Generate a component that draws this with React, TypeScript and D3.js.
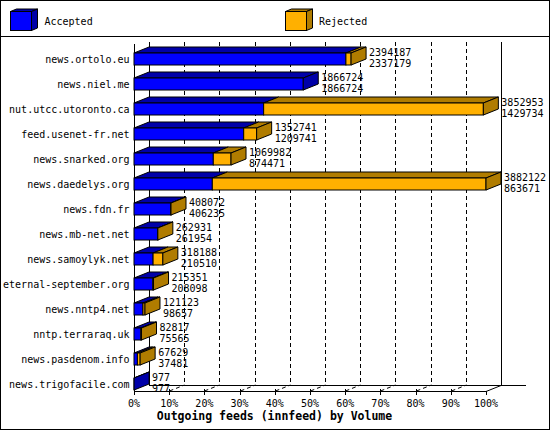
import React from "react";
import * as d3 from "d3";

const categories = [
  "news.ortolo.eu",
  "news.niel.me",
  "nut.utcc.utoronto.ca",
  "feed.usenet-fr.net",
  "news.snarked.org",
  "news.daedelys.org",
  "news.fdn.fr",
  "news.mb-net.net",
  "news.samoylyk.net",
  "eternal-september.org",
  "news.nntp4.net",
  "nntp.terraraq.uk",
  "news.pasdenom.info",
  "news.trigofacile.com",
];
const offered = [2394187, 1866724, 3852953, 1352741, 1069982, 3882122, 408072, 262931, 318188, 215351, 121123, 82817, 67629, 977];
const accepted = [2337179, 1866724, 1429734, 1209741, 874471, 863671, 406235, 261954, 210510, 208098, 98657, 75565, 37481, 977];
const seriesNames = ["Accepted", "Rejected"];
const tickPercents = [0, 10, 20, 30, 40, 50, 60, 70, 80, 90, 100];
const title = "Outgoing feeds (innfeed) by Volume";

const BLUE = "#0000ff";
const BLUE_D = "#0000a8";
const ORANGE = "#ffb000";
const ORANGE_D = "#b07c00";
const FONT = "'DejaVu Sans Mono', monospace";

const DX = 15;
const DY = -6;
const FRONT_BOTTOM = 391;
const TOP = 42;

export default function App() {
  const maxV = d3.max(offered) as number;
  const x = d3.scaleLinear().domain([0, maxV]).range([134, 486]);
  const px = d3.scaleLinear().domain([0, 100]).range([134, 486]);
  const y = d3.scalePoint<string>().domain(categories).range([59, 384]);
  const BH = 12;

  const poly = (pts: [number, number][]) => pts.map((p) => p.join(",")).join(" ");

  const bars = categories.map((c, i) => {
    const cy = y(c) as number;
    const x0 = x(0);
    const xa = x(accepted[i]);
    const xo = x(offered[i]);
    const top = cy - BH / 2;
    const bot = cy + BH / 2;
    const segs: { a: number; b: number; f: string; d: string }[] = [
      { a: x0, b: xa, f: BLUE, d: BLUE_D },
    ];
    if (xo - xa > 0.01) segs.push({ a: xa, b: xo, f: ORANGE, d: ORANGE_D });
    const last = segs[segs.length - 1];
    return (
      <g key={c}>
        {segs.map((s, j) => (
          <g key={j}>
            <polygon
              points={poly([
                [s.a, top],
                [s.a + DX, top + DY],
                [s.b + DX, top + DY],
                [s.b, top],
              ])}
              fill={s.d}
              stroke="#000"
              strokeWidth={1}
            />
            <rect x={s.a} y={top} width={Math.max(0, s.b - s.a)} height={BH} fill={s.f} stroke="#000" strokeWidth={1} />
          </g>
        ))}
        <polygon
          points={poly([
            [last.b, top],
            [last.b + DX, top + DY],
            [last.b + DX, bot + DY],
            [last.b, bot],
          ])}
          fill={last.d}
          stroke="#000"
          strokeWidth={1}
        />
        <text x={xo + DX + 3} y={cy - 7} dy="0.35em" fontFamily={FONT} fontSize={10} fill="#000">
          {offered[i]}
        </text>
        <text x={xo + DX + 3} y={cy + 4} dy="0.35em" fontFamily={FONT} fontSize={10} fill="#000">
          {accepted[i]}
        </text>
        <text x={129.5} y={cy} dy="0.35em" textAnchor="end" fontFamily={FONT} fontSize={10} fill="#000">
          {c}
        </text>
      </g>
    );
  });

  const legendCube = (lx: number, front: string, dark: string) => {
    const w = 21, h = 19, ty = 11.5, dx = 6, dy = -2.5;
    return (
      <g>
        <polygon points={poly([[lx, ty], [lx + dx, ty + dy], [lx + w + dx, ty + dy], [lx + w, ty]])} fill={dark} stroke="#000" />
        <polygon points={poly([[lx + w, ty], [lx + w + dx, ty + dy], [lx + w + dx, ty + h + dy], [lx + w, ty + h]])} fill={dark} stroke="#000" />
        <rect x={lx} y={ty} width={w} height={h} fill={front} stroke="#000" />
      </g>
    );
  };

  return (
    <svg width={550} height={430} style={{ position: "absolute", left: 0, top: 0, background: "#fff" }}>
      <rect x={0.5} y={0.5} width={549} height={429} fill="#fff" stroke="#000" />
      <line x1={0} x2={550} y1={36.5} y2={36.5} stroke="#000" />
      {legendCube(10.5, BLUE, BLUE_D)}
      <text x={44.5} y={21} dy="0.35em" fontFamily={FONT} fontSize={10} fill="#000">{seriesNames[0]}</text>
      {legendCube(285.5, ORANGE, ORANGE_D)}
      <text x={319} y={21} dy="0.35em" fontFamily={FONT} fontSize={10} fill="#000">{seriesNames[1]}</text>

      {/* back wall gridlines */}
      {tickPercents.map((t) => {
        const bx = Math.round(px(t) + DX) + 0.5;
        const solid = t === 0 || t === 100;
        return (
          <line key={"g" + t} x1={bx} x2={bx} y1={TOP} y2={FRONT_BOTTOM + DY} stroke="#000" strokeDasharray={solid ? undefined : "4,3"} />
        );
      })}
      {/* floor dashed lines & ticks */}
      {tickPercents.slice(1, -1).map((t) => {
        const fx = Math.round(px(t)) + 0.5;
        return (
          <g key={"f" + t}>
            <line x1={fx} y1={FRONT_BOTTOM} x2={fx + DX} y2={FRONT_BOTTOM + DY} stroke="#000" strokeDasharray="4,3" />
            <line x1={fx} x2={fx} y1={FRONT_BOTTOM - 2} y2={FRONT_BOTTOM + 4} stroke="#000" />
          </g>
        );
      })}
      <line x1={134.5} x2={134.5} y1={44} y2={FRONT_BOTTOM + 4} stroke="#000" />
      <line x1={134} x2={px(100)} y1={FRONT_BOTTOM + 0.5} y2={FRONT_BOTTOM + 0.5} stroke="#000" />
      <line x1={px(100)} y1={FRONT_BOTTOM + 0.5} x2={px(100) + DX} y2={FRONT_BOTTOM + DY + 0.5} stroke="#000" />
      <line x1={px(0) + DX} x2={526} y1={FRONT_BOTTOM + DY + 0.5} y2={FRONT_BOTTOM + DY + 0.5} stroke="#000" />
      <line x1={px(100) + 0.5} x2={px(100) + 0.5} y1={FRONT_BOTTOM} y2={FRONT_BOTTOM + 4} stroke="#000" />

      {bars}

      {tickPercents.map((t) => (
        <text key={"t" + t} x={px(t)} y={403} dy="0.35em" textAnchor="middle" fontFamily={FONT} fontSize={10} fill="#000">
          {t + "%"}
        </text>
      ))}
      <text x={274.5} y={416} dy="0.35em" textAnchor="middle" fontFamily={FONT} fontSize={11.5} fontWeight="bold" fill="#000">
        {title}
      </text>
    </svg>
  );
}
